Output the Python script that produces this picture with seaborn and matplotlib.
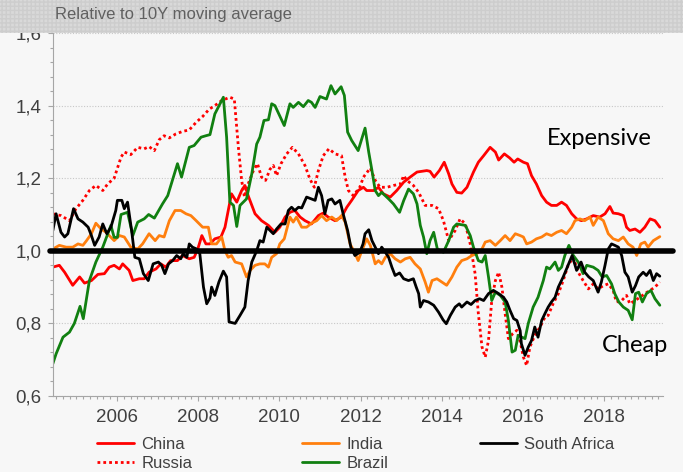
import matplotlib
matplotlib.use("Agg")
import matplotlib.pyplot as plt
from matplotlib.lines import Line2D
from matplotlib.patches import Rectangle
from matplotlib.ticker import MultipleLocator, FuncFormatter
import seaborn as sns
import pandas as pd

# (decimal year, value relative to 10Y moving average)
china = [(2004.42, 0.955), (2004.58, 0.96), (2004.71, 0.941), (2004.91, 0.905), (2005.08, 0.928), (2005.20, 0.911),
         (2005.37, 0.918), (2005.53, 0.935), (2005.69, 0.937), (2005.81, 0.955), (2005.93, 0.96), (2006.06, 0.95),
         (2006.14, 0.964), (2006.30, 0.946), (2006.39, 0.918), (2006.55, 0.923), (2006.67, 0.923), (2006.79, 0.941),
         (2006.96, 0.95), (2007.08, 0.964), (2007.20, 0.955), (2007.32, 0.973), (2007.49, 0.973), (2007.61, 0.987),
         (2007.78, 0.978), (2007.90, 0.982), (2007.99, 1.005), (2008.09, 1.042), (2008.19, 1.019), (2008.29, 1.019),
         (2008.41, 1.033), (2008.56, 1.038), (2008.66, 1.065), (2008.74, 1.111), (2008.82, 1.157), (2008.95, 1.134),
         (2009.07, 1.166), (2009.15, 1.18), (2009.23, 1.152), (2009.40, 1.102), (2009.56, 1.083), (2009.73, 1.07),
         (2009.89, 1.051), (2010.01, 1.065), (2010.14, 1.093), (2010.26, 1.106), (2010.38, 1.111), (2010.51, 1.093),
         (2010.63, 1.083), (2010.79, 1.074), (2010.96, 1.097), (2011.08, 1.104), (2011.20, 1.093), (2011.37, 1.083),
         (2011.53, 1.093), (2011.66, 1.12), (2011.78, 1.139), (2011.94, 1.166), (2012.07, 1.175), (2012.15, 1.166),
         (2012.32, 1.166), (2012.44, 1.175), (2012.56, 1.157), (2012.73, 1.148), (2012.89, 1.166), (2013.06, 1.189),
         (2013.22, 1.203), (2013.39, 1.217), (2013.51, 1.219), (2013.63, 1.221), (2013.71, 1.219), (2013.81, 1.203),
         (2013.94, 1.221), (2014.06, 1.244), (2014.17, 1.212), (2014.25, 1.184), (2014.37, 1.161), (2014.49, 1.159),
         (2014.62, 1.175), (2014.78, 1.217), (2014.90, 1.244), (2015.03, 1.262), (2015.19, 1.285), (2015.32, 1.272),
         (2015.40, 1.25), (2015.54, 1.267), (2015.67, 1.256), (2015.78, 1.244), (2015.87, 1.253), (2016.01, 1.244),
         (2016.11, 1.24), (2016.21, 1.207), (2016.33, 1.184), (2016.46, 1.152), (2016.58, 1.134), (2016.70, 1.125),
         (2016.83, 1.125), (2016.95, 1.134), (2017.07, 1.125), (2017.20, 1.102), (2017.32, 1.088), (2017.44, 1.083),
         (2017.57, 1.088), (2017.73, 1.097), (2017.89, 1.093), (2018.02, 1.102), (2018.14, 1.122), (2018.22, 1.104),
         (2018.35, 1.102), (2018.47, 1.097), (2018.55, 1.065), (2018.63, 1.056), (2018.76, 1.06), (2018.88, 1.051),
         (2019.00, 1.065), (2019.13, 1.088), (2019.25, 1.083), (2019.37, 1.065)]

russia = [(2004.42, 1.102), (2004.62, 1.097), (2004.83, 1.083), (2004.99, 1.116), (2005.16, 1.139), (2005.32, 1.166),
          (2005.48, 1.18), (2005.65, 1.166), (2005.77, 1.184), (2005.93, 1.20), (2006.10, 1.258), (2006.18, 1.272),
          (2006.34, 1.265), (2006.51, 1.285), (2006.67, 1.281), (2006.79, 1.287), (2006.92, 1.276), (2007.04, 1.306),
          (2007.16, 1.317), (2007.29, 1.311), (2007.45, 1.322), (2007.62, 1.329), (2007.78, 1.333), (2007.95, 1.354),
          (2008.11, 1.37), (2008.27, 1.39), (2008.41, 1.40), (2008.58, 1.414), (2008.78, 1.423), (2008.89, 1.418),
          (2008.99, 1.285), (2009.07, 1.194), (2009.14, 1.148), (2009.23, 1.184), (2009.36, 1.221), (2009.46, 1.24),
          (2009.56, 1.203), (2009.66, 1.194), (2009.77, 1.225), (2009.85, 1.235), (2009.93, 1.207), (2010.04, 1.24),
          (2010.18, 1.267), (2010.32, 1.285), (2010.47, 1.267), (2010.63, 1.235), (2010.75, 1.198), (2010.86, 1.175),
          (2010.96, 1.221), (2011.08, 1.262), (2011.22, 1.281), (2011.37, 1.267), (2011.53, 1.262), (2011.62, 1.203),
          (2011.70, 1.166), (2011.82, 1.152), (2011.98, 1.175), (2012.07, 1.203), (2012.24, 1.228), (2012.36, 1.194),
          (2012.48, 1.175), (2012.65, 1.175), (2012.81, 1.18), (2012.98, 1.184), (2013.06, 1.207), (2013.14, 1.194),
          (2013.30, 1.18), (2013.43, 1.161), (2013.59, 1.125), (2013.76, 1.125), (2013.92, 1.116), (2014.04, 1.083),
          (2014.17, 1.028), (2014.33, 1.056), (2014.45, 1.088), (2014.58, 1.074), (2014.70, 1.019), (2014.82, 0.937),
          (2014.90, 0.827), (2014.99, 0.735), (2015.07, 0.707), (2015.15, 0.753), (2015.23, 0.863), (2015.32, 0.918),
          (2015.40, 0.941), (2015.48, 0.90), (2015.56, 0.827), (2015.64, 0.758), (2015.75, 0.772), (2015.85, 0.781),
          (2015.93, 0.75), (2016.01, 0.707), (2016.09, 0.684), (2016.17, 0.735), (2016.29, 0.767), (2016.42, 0.79),
          (2016.54, 0.817), (2016.62, 0.822), (2016.74, 0.854), (2016.87, 0.882), (2016.99, 0.918), (2017.11, 0.96),
          (2017.24, 0.982), (2017.36, 0.941), (2017.48, 0.918), (2017.61, 0.895), (2017.73, 0.909), (2017.85, 0.895),
          (2017.98, 0.904), (2018.10, 0.909), (2018.22, 0.891), (2018.30, 0.859), (2018.43, 0.863), (2018.55, 0.877),
          (2018.63, 0.854), (2018.76, 0.863), (2018.88, 0.872), (2019.00, 0.882), (2019.13, 0.891), (2019.25, 0.90),
          (2019.37, 0.914)]

india = [(2004.42, 1.005), (2004.58, 1.015), (2004.75, 1.01), (2004.91, 1.01), (2005.04, 1.019), (2005.16, 1.015),
         (2005.25, 1.028), (2005.37, 1.047), (2005.48, 1.076), (2005.61, 1.06), (2005.73, 1.051), (2005.93, 1.028),
         (2006.06, 1.042), (2006.18, 1.038), (2006.34, 1.01), (2006.51, 1.005), (2006.63, 1.019), (2006.79, 1.047),
         (2006.94, 1.028), (2007.04, 1.042), (2007.16, 1.038), (2007.29, 1.083), (2007.43, 1.111), (2007.57, 1.111),
         (2007.70, 1.102), (2007.82, 1.097), (2007.95, 1.083), (2008.11, 1.065), (2008.25, 1.065), (2008.33, 1.019),
         (2008.45, 1.019), (2008.58, 1.038), (2008.66, 1.0), (2008.74, 0.982), (2008.82, 0.987), (2008.91, 0.969),
         (2009.07, 0.964), (2009.19, 0.928), (2009.28, 0.946), (2009.40, 0.96), (2009.52, 0.964), (2009.64, 0.964),
         (2009.73, 0.955), (2009.81, 0.982), (2009.93, 0.992), (2010.01, 1.019), (2010.12, 1.033), (2010.26, 1.093),
         (2010.34, 1.079), (2010.42, 1.093), (2010.55, 1.065), (2010.67, 1.065), (2010.79, 1.076), (2010.92, 1.083),
         (2011.04, 1.097), (2011.16, 1.083), (2011.29, 1.093), (2011.41, 1.083), (2011.53, 1.097), (2011.62, 1.079),
         (2011.74, 1.019), (2011.85, 0.996), (2011.94, 0.973), (2012.03, 1.0), (2012.15, 1.033), (2012.24, 1.015),
         (2012.36, 0.964), (2012.44, 0.973), (2012.52, 0.964), (2012.61, 0.982), (2012.73, 0.992), (2012.85, 0.978),
         (2012.98, 0.969), (2013.10, 0.978), (2013.22, 0.982), (2013.34, 0.964), (2013.47, 0.95), (2013.59, 0.914),
         (2013.67, 0.886), (2013.76, 0.918), (2013.88, 0.923), (2014.00, 0.914), (2014.12, 0.905), (2014.25, 0.928),
         (2014.37, 0.955), (2014.49, 0.973), (2014.62, 0.978), (2014.74, 0.987), (2014.86, 0.992), (2014.99, 1.005),
         (2015.07, 1.024), (2015.19, 1.028), (2015.32, 1.015), (2015.44, 1.028), (2015.56, 1.042), (2015.68, 1.028),
         (2015.81, 1.047), (2015.93, 1.042), (2016.01, 1.038), (2016.09, 1.019), (2016.21, 1.024), (2016.33, 1.033),
         (2016.46, 1.038), (2016.58, 1.047), (2016.70, 1.042), (2016.83, 1.051), (2016.95, 1.056), (2017.07, 1.047),
         (2017.20, 1.065), (2017.28, 1.083), (2017.40, 1.088), (2017.52, 1.083), (2017.65, 1.093), (2017.73, 1.07),
         (2017.85, 1.093), (2017.98, 1.083), (2018.10, 1.047), (2018.22, 1.033), (2018.35, 1.028), (2018.47, 1.038),
         (2018.59, 1.019), (2018.71, 1.01), (2018.80, 0.987), (2018.90, 1.019), (2019.00, 1.024), (2019.08, 1.01),
         (2019.21, 1.028), (2019.37, 1.039)]

brazil = [(2004.42, 0.689), (2004.50, 0.716), (2004.67, 0.762), (2004.83, 0.776), (2004.95, 0.80), (2005.09, 0.847),
          (2005.17, 0.813), (2005.32, 0.918), (2005.48, 0.969), (2005.65, 1.01), (2005.85, 1.07), (2005.93, 1.037),
          (2006.01, 1.037), (2006.10, 1.10), (2006.26, 1.106), (2006.39, 1.042), (2006.51, 1.079), (2006.67, 1.088),
          (2006.78, 1.10), (2006.92, 1.09), (2007.12, 1.129), (2007.25, 1.152), (2007.49, 1.24), (2007.59, 1.203),
          (2007.78, 1.285), (2007.90, 1.29), (2008.07, 1.313), (2008.19, 1.317), (2008.29, 1.32), (2008.41, 1.377),
          (2008.62, 1.423), (2008.70, 1.313), (2008.78, 1.134), (2008.87, 1.125), (2008.95, 1.067), (2009.03, 1.125),
          (2009.19, 1.143), (2009.32, 1.212), (2009.44, 1.294), (2009.52, 1.313), (2009.62, 1.359), (2009.73, 1.361),
          (2009.81, 1.405), (2009.89, 1.40), (2010.12, 1.345), (2010.26, 1.405), (2010.34, 1.395), (2010.47, 1.409),
          (2010.59, 1.397), (2010.71, 1.414), (2010.79, 1.409), (2010.88, 1.395), (2011.00, 1.425), (2011.16, 1.418),
          (2011.27, 1.455), (2011.37, 1.432), (2011.52, 1.452), (2011.60, 1.428), (2011.68, 1.327), (2011.78, 1.304),
          (2011.94, 1.276), (2012.11, 1.338), (2012.20, 1.272), (2012.28, 1.221), (2012.36, 1.166), (2012.44, 1.152),
          (2012.52, 1.161), (2012.69, 1.143), (2012.81, 1.129), (2012.96, 1.106), (2013.06, 1.138), (2013.18, 1.17),
          (2013.30, 1.157), (2013.39, 1.129), (2013.47, 1.07), (2013.55, 1.038), (2013.63, 0.992), (2013.71, 1.028),
          (2013.80, 1.051), (2013.89, 1.005), (2014.04, 0.996), (2014.17, 1.028), (2014.29, 1.065), (2014.37, 1.074),
          (2014.58, 1.07), (2014.70, 1.042), (2014.78, 1.01), (2014.90, 0.973), (2014.99, 0.969), (2015.07, 0.987),
          (2015.15, 0.928), (2015.23, 0.863), (2015.32, 0.886), (2015.44, 0.877), (2015.56, 0.859), (2015.64, 0.808),
          (2015.73, 0.721), (2015.81, 0.726), (2015.88, 0.767), (2016.05, 0.758), (2016.13, 0.80), (2016.25, 0.845),
          (2016.37, 0.872), (2016.50, 0.918), (2016.58, 0.955), (2016.66, 0.95), (2016.79, 0.969), (2016.87, 0.946),
          (2016.95, 0.955), (2017.03, 0.987), (2017.13, 1.015), (2017.24, 0.987), (2017.36, 0.969), (2017.48, 0.937),
          (2017.57, 0.96), (2017.73, 0.955), (2017.85, 0.946), (2017.95, 0.928), (2018.06, 0.932), (2018.18, 0.909),
          (2018.26, 0.882), (2018.36, 0.859), (2018.47, 0.845), (2018.59, 0.836), (2018.69, 0.81), (2018.77, 0.882),
          (2018.85, 0.886), (2018.94, 0.859), (2019.04, 0.882), (2019.15, 0.891), (2019.25, 0.868), (2019.37, 0.85)]

south_africa = [(2004.42, 1.056), (2004.50, 1.102), (2004.62, 1.051), (2004.71, 1.038), (2004.79, 1.047), (2004.93, 1.116),
                (2005.04, 1.088), (2005.16, 1.079), (2005.29, 1.065), (2005.37, 1.042), (2005.45, 1.015), (2005.56, 1.038),
                (2005.65, 1.074), (2005.75, 1.047), (2005.85, 1.065), (2005.97, 1.111), (2006.01, 1.139), (2006.12, 1.139),
                (2006.18, 1.116), (2006.26, 1.134), (2006.36, 1.056), (2006.44, 0.982), (2006.55, 0.978), (2006.65, 0.937),
                (2006.77, 0.918), (2006.89, 0.964), (2007.02, 0.969), (2007.10, 0.96), (2007.18, 0.937), (2007.27, 0.964),
                (2007.37, 0.973), (2007.47, 0.987), (2007.57, 0.978), (2007.63, 0.992), (2007.72, 0.982), (2007.78, 1.019),
                (2007.86, 1.01), (2007.96, 1.005), (2008.04, 0.992), (2008.13, 0.90), (2008.21, 0.854), (2008.29, 0.87),
                (2008.33, 0.90), (2008.41, 0.877), (2008.51, 0.914), (2008.62, 0.944), (2008.70, 0.928), (2008.76, 0.804),
                (2008.91, 0.80), (2009.03, 0.822), (2009.15, 0.845), (2009.23, 0.918), (2009.32, 0.969), (2009.44, 1.0),
                (2009.52, 1.028), (2009.60, 1.024), (2009.69, 1.065), (2009.77, 1.056), (2009.85, 1.047), (2009.93, 1.06),
                (2010.04, 1.074), (2010.14, 1.074), (2010.22, 1.111), (2010.30, 1.12), (2010.38, 1.111), (2010.47, 1.12),
                (2010.55, 1.118), (2010.67, 1.148), (2010.79, 1.143), (2010.88, 1.139), (2010.96, 1.175), (2011.04, 1.152),
                (2011.12, 1.102), (2011.20, 1.139), (2011.29, 1.143), (2011.37, 1.129), (2011.49, 1.139), (2011.57, 1.102),
                (2011.68, 1.056), (2011.76, 1.01), (2011.86, 0.987), (2011.98, 0.996), (2012.06, 1.019), (2012.11, 1.047),
                (2012.20, 1.058), (2012.28, 1.028), (2012.44, 0.992), (2012.52, 1.01), (2012.61, 0.996), (2012.69, 0.982),
                (2012.77, 0.955), (2012.85, 0.932), (2012.96, 0.939), (2013.06, 0.923), (2013.18, 0.918), (2013.30, 0.923),
                (2013.37, 0.90), (2013.43, 0.882), (2013.47, 0.845), (2013.55, 0.863), (2013.67, 0.859), (2013.80, 0.85),
                (2013.92, 0.831), (2014.03, 0.81), (2014.11, 0.799), (2014.21, 0.822), (2014.33, 0.845), (2014.43, 0.854),
                (2014.49, 0.845), (2014.62, 0.859), (2014.72, 0.852), (2014.82, 0.863), (2014.93, 0.868), (2015.03, 0.863),
                (2015.15, 0.882), (2015.27, 0.891), (2015.40, 0.882), (2015.52, 0.872), (2015.60, 0.859), (2015.68, 0.836),
                (2015.77, 0.813), (2015.85, 0.808), (2015.93, 0.78), (2015.96, 0.744), (2016.05, 0.712), (2016.13, 0.735),
                (2016.21, 0.753), (2016.29, 0.79), (2016.37, 0.762), (2016.46, 0.808), (2016.54, 0.827), (2016.62, 0.845),
                (2016.70, 0.859), (2016.79, 0.872), (2016.87, 0.90), (2016.99, 0.928), (2017.11, 0.96), (2017.21, 0.987),
                (2017.32, 0.946), (2017.43, 0.969), (2017.52, 0.941), (2017.62, 0.928), (2017.73, 0.918), (2017.85, 0.886),
                (2017.93, 0.914), (2018.02, 0.96), (2018.10, 1.005), (2018.18, 1.019), (2018.26, 1.015), (2018.35, 1.01),
                (2018.43, 0.987), (2018.51, 0.941), (2018.59, 0.928), (2018.69, 0.886), (2018.77, 0.904), (2018.85, 0.928),
                (2018.96, 0.941), (2019.04, 0.932), (2019.13, 0.946), (2019.21, 0.918), (2019.29, 0.937), (2019.37, 0.93)]

series = {"China": china, "Russia": russia, "India": india, "Brazil": brazil, "South Africa": south_africa}
colors = {"China": "#ff0000", "Russia": "#ff0000", "India": "#ff7f0e", "Brazil": "#118011", "South Africa": "#000000"}
dashes = {"China": "", "Russia": (1, 1.1), "India": "", "Brazil": "", "South Africa": ""}
draw_order = ["Russia", "China", "India", "Brazil", "South Africa"]

rows = [(name, yr, v) for name, pts in series.items() for yr, v in pts]
df = pd.DataFrame(rows, columns=["country", "year", "value"])

sns.set_theme(style="white")
plt.rcParams["font.family"] = ["Liberation Sans", "DejaVu Sans"]

bg = "#f7f7f7"
fig = plt.figure(figsize=(6.83, 4.72), dpi=100, facecolor=bg)
ax = fig.add_axes([53 / 683, 1 - 396 / 472, 610 / 683, 363 / 472])
ax.set_facecolor(bg)

# header band
fig.patches.append(Rectangle((0, 1 - 33 / 472), 1, 33 / 472, transform=fig.transFigure,
                             facecolor="#d9d9d9", edgecolor="#cdcdcd", hatch="++++", lw=0, zorder=0))
fig.text(55 / 683, 1 - 15 / 472, "Relative to 10Y moving average", color="#606060",
         fontsize=12, va="center", ha="left")

sns.lineplot(data=df, x="year", y="value", hue="country", style="country",
             hue_order=draw_order, style_order=draw_order, palette=colors, dashes=dashes,
             linewidth=2, legend=False, estimator=None, ax=ax)

ax.axhline(1.0, color="black", lw=4, xmin=-0.005, xmax=1.016, clip_on=False, zorder=5)

ax.set_xlim(2004.424, 2019.448)
ax.set_ylim(0.6, 1.6)
ax.xaxis.set_major_locator(MultipleLocator(2))
ax.xaxis.set_minor_locator(MultipleLocator(1 / 6))
ax.xaxis.set_major_formatter(FuncFormatter(lambda v, _: f"{int(round(v))}"))
ax.yaxis.set_major_locator(MultipleLocator(0.2))
ax.yaxis.set_minor_locator(MultipleLocator(0.04))
ax.yaxis.set_major_formatter(FuncFormatter(lambda v, _: f"{v:.1f}".replace(".", ",")))
ax.set_xlabel("")
ax.set_ylabel("")

for s in ["top", "right"]:
    ax.spines[s].set_visible(False)
for s in ["left", "bottom"]:
    ax.spines[s].set_color("#a6a6a6")
    ax.spines[s].set_linewidth(0.8)

ax.tick_params(axis="both", which="both", direction="out", color="#a6a6a6", width=0.8,
               labelsize=13.5, labelcolor="#404040")
ax.tick_params(axis="both", which="major", length=3.5)
ax.tick_params(axis="both", which="minor", length=2.5)
ax.tick_params(axis="y", which="major", pad=5)
ax.tick_params(axis="x", which="major", pad=6)
ax.tick_params(axis="both", which="both", bottom=True, left=True)

ax.grid(axis="y", which="major", color="#c8c8c8", linestyle=(0, (1, 1.5)), linewidth=0.8)
ax.grid(axis="x", visible=False)

ax.text(2016.59, 1.308, "Expensive", family="Lato", fontsize=17, color="black", va="center", ha="left")
ax.text(2017.95, 0.74, "Cheap", family="Lato", fontsize=17, color="black", va="center", ha="left")

# legend: three columns placed separately
def handle(name):
    return Line2D([], [], color=colors[name], lw=2,
                  linestyle=(0, (1, 1.1)) if name == "Russia" else "-")

legend_cols = [(97, ["China", "Russia"]), (302, ["India", "Brazil"]), (480, ["South Africa"])]
for left, names in legend_cols:
    leg = fig.legend(handles=[handle(n) for n in names], labels=names, loc="upper left",
                     bbox_to_anchor=(left / 683, 1 - 437 / 472), frameon=False, fontsize=12,
                     handlelength=2.2, handletextpad=0.45, borderpad=0, borderaxespad=0,
                     labelspacing=0.22)
    for t in leg.get_texts():
        t.set_color("#404040")

fig.savefig("out.png", dpi=100, facecolor=bg)
